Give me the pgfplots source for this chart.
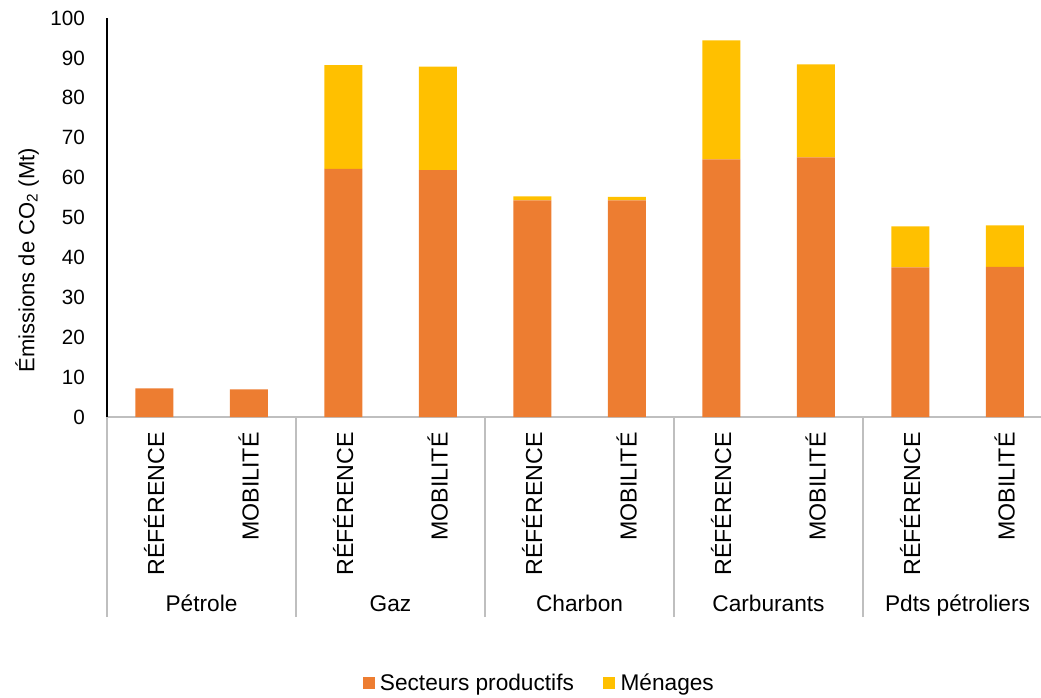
\documentclass[border=0pt]{standalone}
\usepackage{pgfplots}
\pgfplotsset{compat=1.18}
\usepackage{fontspec}
\setmainfont{Liberation Sans}
\definecolor{sorange}{HTML}{ED7D31}
\definecolor{syellow}{HTML}{FFC000}
\definecolor{axgray}{HTML}{BFBFBF}
\begin{document}
\begin{tikzpicture}
\begin{axis}[
  at={(0,0)}, anchor=south west,
  scale only axis, width=708.75pt, height=299.25pt,
  ybar stacked, bar width=28.5pt,
  xmin=-0.5, xmax=9.5, ymin=0, ymax=100,
  axis x line*=bottom, axis y line*=left,
  x axis line style={draw=axgray, line width=1pt},
  y axis line style={draw=black, line width=0.8pt},
  xtick={0,...,9},
  xticklabels={RÉFÉRENCE,MOBILITÉ,RÉFÉRENCE,MOBILITÉ,RÉFÉRENCE,MOBILITÉ,RÉFÉRENCE,MOBILITÉ,RÉFÉRENCE,MOBILITÉ},
  x tick label style={yshift=-8pt, rotate=90, anchor=east, font=\fontsize{17.4}{20}\selectfont},
  major tick length=0pt,
  extra x ticks={-0.5,1.5,3.5,5.5,7.5,9.5},
  extra x tick labels={},
  extra x tick style={major tick length=150pt, tick align=outside, tick style={draw=axgray, line width=1pt}},
  ytick={0,10,...,100},
  /pgf/number format/assume math mode=true,
  y tick label style={font=\fontsize{15.5}{18}\selectfont, xshift=-13pt},
  ylabel={Émissions de CO\textsubscript{2} (Mt)},
  every axis y label/.style={at={(axis description cs:0,0.393)}, xshift=-60pt, rotate=90, anchor=center, font=\fontsize{16.5}{20}\selectfont},
  legend style={at={(axis description cs:0.4577,-0.667)}, anchor=center, draw=none, legend columns=2, font=\fontsize{17}{20}\selectfont,
    /tikz/every even column/.append style={column sep=20pt}},
  legend image code/.code={\fill[#1] (0pt,-4.5pt) rectangle (9pt,4.5pt);},
  legend cell align=left,
  clip=false,
]
\addplot[fill=sorange, draw=none] coordinates {(0,7.2) (1,6.9) (2,62.2) (3,61.9) (4,54.3) (5,54.3) (6,64.6) (7,65.1) (8,37.5) (9,37.6)};
\addlegendentry{\hspace{2pt}Secteurs productifs}
\addplot[fill=syellow, draw=none] coordinates {(0,0) (1,0) (2,26.0) (3,25.9) (4,1.0) (5,0.9) (6,29.8) (7,23.3) (8,10.3) (9,10.4)};
\addlegendentry{\hspace{2pt}Ménages}
\node[font=\fontsize{17}{20}\selectfont, anchor=base] at (axis cs:0.5,0) [yshift=-146pt] {Pétrole};
\node[font=\fontsize{17}{20}\selectfont, anchor=base] at (axis cs:2.5,0) [yshift=-146pt] {Gaz};
\node[font=\fontsize{17}{20}\selectfont, anchor=base] at (axis cs:4.5,0) [yshift=-146pt] {Charbon};
\node[font=\fontsize{17}{20}\selectfont, anchor=base] at (axis cs:6.5,0) [yshift=-146pt] {Carburants};
\node[font=\fontsize{17}{20}\selectfont, anchor=base] at (axis cs:8.5,0) [yshift=-146pt] {Pdts pétroliers};
\end{axis}
\pgfresetboundingbox
\path (-80.25pt,-210pt) rectangle (700.5pt,312.75pt);
\end{tikzpicture}
\end{document}
